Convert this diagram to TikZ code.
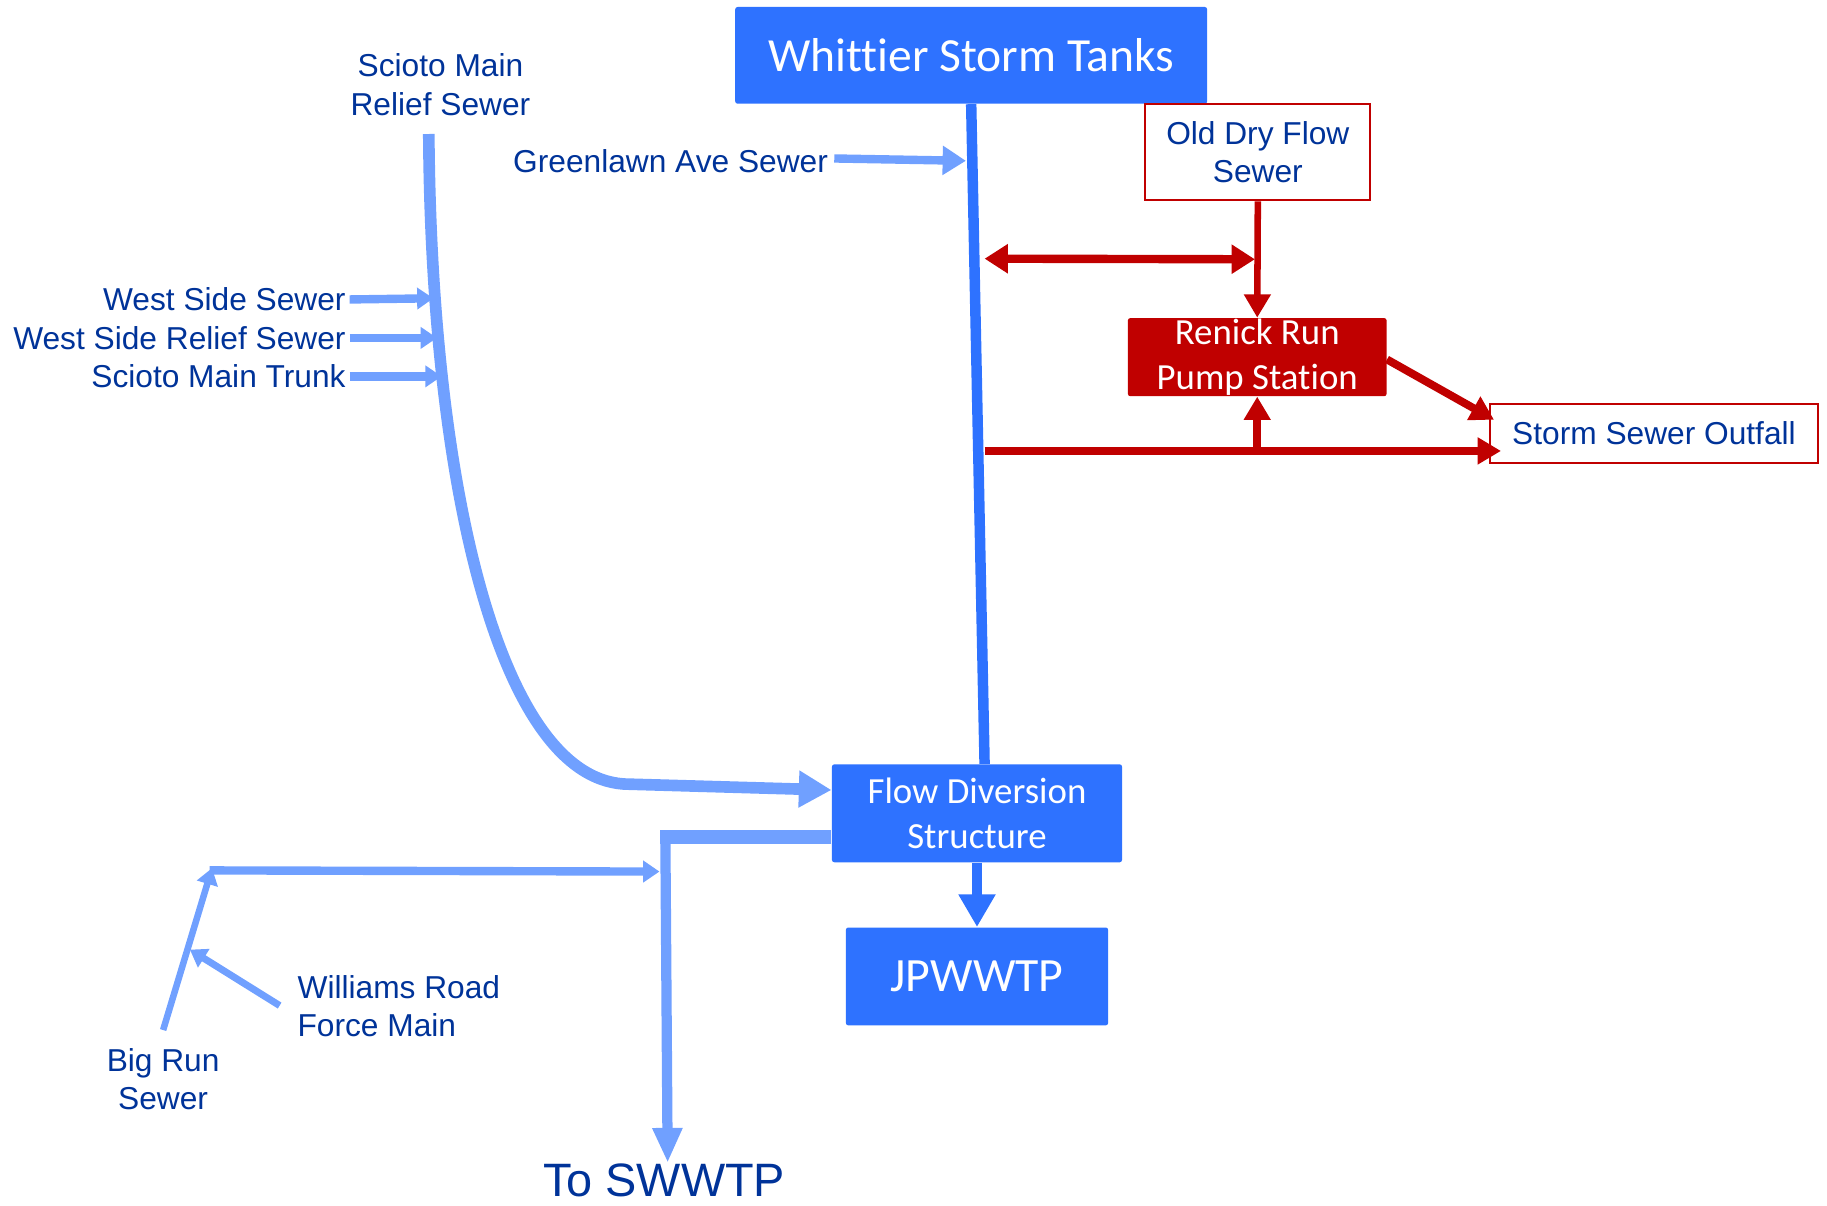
\documentclass[tikz,border=0pt]{standalone}
\usepackage{fontspec}
\setmainfont{Liberation Sans}
\newfontfamily\carlito[Ligatures=NoCommon]{Carlito}
\usetikzlibrary{arrows.meta}
\definecolor{boxblue}{RGB}{46,114,255}
\definecolor{pipeblue}{RGB}{112,160,255}
\definecolor{labelblue}{RGB}{0,51,153}
\definecolor{pumpred}{RGB}{192,0,0}
\begin{document}
\begin{tikzpicture}[x=0.5pt,y=-0.5pt,
  bluebox/.style={fill=boxblue, text=white, rounded corners=1pt, inner sep=0pt,
    align=center, font=\carlito\fontsize{15.8}{19}\selectfont},
  redbox/.style={fill=pumpred, text=white, rounded corners=1pt, inner sep=0pt,
    align=center, font=\carlito\fontsize{15.8}{19}\selectfont},
  outlinebox/.style={draw=pumpred, line width=0.8pt, fill=white, text=labelblue,
    inner sep=0pt, align=center, font=\fontsize{13.6}{16.5}\selectfont},
  lbl/.style={text=labelblue, inner sep=0pt, font=\fontsize{13.6}{16.5}\selectfont},
  mainpipe/.style={draw=boxblue, line width=4.5pt},
  sidepipe/.style={draw=pipeblue, line width=3.6pt},
  redpipe/.style={draw=pumpred, line width=3.4pt},
  bigtip/.style={-{Triangle[length=14pt,width=15pt]}},
  midtip/.style={-{Triangle[length=10pt,width=12pt]}},
  smalltip/.style={-{Triangle[length=7pt,width=9pt]}},
  redtip/.style={-{Triangle[length=10pt,width=11pt]}},
  reddouble/.style={{Triangle[length=10pt,width=12pt]}-{Triangle[length=10pt,width=12pt]}}]
\useasboundingbox (0,0) rectangle (1568,1035);

% boxes
\node[bluebox, minimum width=202.5pt, minimum height=41.5pt,
  font=\carlito\fontsize{20.4}{24}\selectfont] (wst) at (833.5,47.5) {Whittier Storm Tanks};
\node[outlinebox, minimum width=96.5pt, minimum height=41.5pt] (odf) at (1079.5,130.5) {Old Dry Flow\\Sewer};
\node[redbox, minimum width=111pt, minimum height=33.5pt] (ren) at (1079,306.5) {Renick Run\\Pump Station};
\node[outlinebox, minimum width=140.5pt, minimum height=25pt] (sso) at (1419.5,372) {Storm Sewer Outfall};
\node[bluebox, minimum width=124.5pt, minimum height=42pt] (fds) at (838.5,698) {Flow Diversion\\Structure};
\node[bluebox, minimum width=112.5pt, minimum height=42pt,
  font=\carlito\fontsize{20.5}{24}\selectfont] (jp) at (838.5,838) {JPWWTP};

% labels
\node[lbl, align=center] (smr) at (378,72.5) {Scioto Main\\Relief Sewer};
\node[lbl, anchor=east] (gl) at (711,138) {Greenlawn Ave Sewer};
\node[lbl, anchor=east] (wss) at (297,257) {West Side Sewer};
\node[lbl, anchor=east] (wsr) at (297,290) {West Side Relief Sewer};
\node[lbl, anchor=east] (smt) at (297,323) {Scioto Main Trunk};
\node[lbl, anchor=west, align=left] (wrf) at (255,863.5) {Williams Road\\Force Main};
\node[lbl, align=center] (brs) at (140,926) {Big Run\\Sewer};
\node[lbl, font=\fontsize{20.1}{24}\selectfont] (sw) at (570,1013) {To SWWTP};

% junction points
\coordinate (smrtop) at (368,115);
\coordinate (smrbend) at (540,673);
\coordinate (fdin) at (fds.west |- 0,678);
\coordinate (wssT) at (372,256);
\coordinate (wsrT) at (375,290);
\coordinate (smtT) at (379,323);
\coordinate (glT) at (829,138);
\coordinate (redL) at (845,222);
\coordinate (redR) at (1077,222.5);
\coordinate (redrow) at (845,387);
\coordinate (fdout) at (fds.west |- 0,718);
\coordinate (swcorner) at (571,713);
\coordinate (swtip) at (573,998);
\coordinate (brbase) at (140,884);
\coordinate (brtop) at (182,745);
\coordinate (brrow) at (180,747);
\coordinate (brjoin) at (566,748);
\coordinate (wrbase) at (240,863);
\coordinate (wrtip) at (163,815);

% Scioto Main Relief Sewer into the diversion structure
\draw[sidepipe, line width=5pt, bigtip] (smrtop)
  .. controls (370,420) and (430,673) .. (smrbend) -- (fdin);
\draw[sidepipe, smalltip] (wss.east) ++(3,0) -- (wssT);
\draw[sidepipe, smalltip] (wsr.east) ++(3,0) -- (wsrT);
\draw[sidepipe, smalltip] (smt.east) ++(3,0) -- (smtT);
\draw[sidepipe, midtip] (gl.east) ++(5,-2) -- (glT);

% trunk from the storm tanks
\draw[mainpipe] (wst.south) -- ([xshift=3.25pt]fds.north);
\draw[mainpipe, line width=4pt, bigtip] (fds.south) -- (jp.north);

% dry flow and pump station
\draw[redpipe, line width=3.6pt, reddouble] (redL) -- (redR);
\draw[redpipe, line width=2.8pt, redtip] (odf.south) -- (ren.north);
\draw[redpipe, redtip] (redrow) -- ([xshift=5pt]redrow -| sso.west);
\draw[redpipe, redtip] (redrow -| ren.south) -- (ren.south);
\draw[redpipe, redtip] ([yshift=-1pt]ren.east) -- ([shift={(4,14)}]sso.north west);

% to the southerly plant
\draw[sidepipe, line width=6pt] (fdout) -- ([xshift=-2.5pt]swcorner |- fdout);
\draw[sidepipe, line width=4.4pt, -{Triangle[length=15pt,width=12pt]}] (swcorner) -- (swtip);
\draw[sidepipe, smalltip] (brrow) -- (brjoin);
\draw[sidepipe, line width=2.8pt, smalltip] (brbase) -- (brtop);
\draw[sidepipe, line width=3pt, smalltip] (wrbase) -- (wrtip);
\end{tikzpicture}
\end{document}
